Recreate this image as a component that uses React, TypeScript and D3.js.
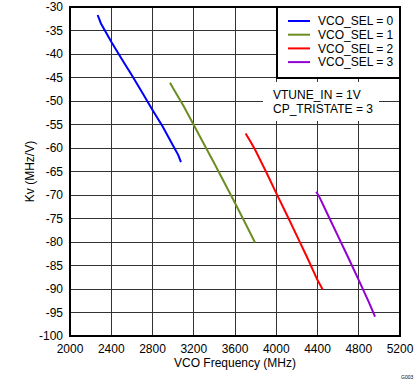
import React from "react";
import * as d3 from "d3";

const seriesNames = ["VCO_SEL = 0", "VCO_SEL = 1", "VCO_SEL = 2", "VCO_SEL = 3"];
const seriesColors = ["#0000FF", "#6B8E23", "#FF0000", "#9400D3"];

const sel0Freq = [2268, 2300, 2400, 2500, 2600, 2700, 2800, 2900, 3000, 3050, 3076];
const sel0Kv = [-31.7, -33.5, -37.4, -41, -44.5, -48.2, -51.9, -55.5, -59.5, -61.5, -63];
const sel1Freq = [2970, 3000, 3100, 3200, 3300, 3400, 3500, 3600, 3700, 3794];
const sel1Kv = [-46.1, -47.3, -51, -55.1, -59.2, -63.3, -67.5, -71.7, -76, -80.1];
const sel2Freq = [3703, 3750, 3800, 3900, 4000, 4100, 4200, 4300, 4400, 4450];
const sel2Kv = [-56.9, -58.6, -60.6, -65, -69.6, -74.1, -78.7, -83.3, -88.1, -90.1];
const sel3Freq = [4388, 4420, 4500, 4600, 4700, 4800, 4900, 4958];
const sel3Kv = [-69.3, -70.5, -74.2, -78.8, -83.4, -88.1, -92.9, -95.9];

const xTicks = [2000, 2400, 2800, 3200, 3600, 4000, 4400, 4800, 5200];
const yTicks = [-30, -35, -40, -45, -50, -55, -60, -65, -70, -75, -80, -85, -90, -95, -100];

const W = 419, H = 382;
const L = 70, R = 400, T = 7, B = 336;
const FONT = "Liberation Sans, Arial, sans-serif";

export default function App() {
  const x = d3.scaleLinear().domain([2000, 5200]).range([L, R]);
  const y = d3.scaleLinear().domain([-30, -100]).range([T, B]);
  const line = d3.line<[number, number]>().x(d => x(d[0])).y(d => y(d[1]));
  const series = [
    d3.zip(sel0Freq, sel0Kv),
    d3.zip(sel1Freq, sel1Kv),
    d3.zip(sel2Freq, sel2Kv),
    d3.zip(sel3Freq, sel3Kv),
  ] as [number, number][][];

  return (
    <svg width={W} height={H} style={{ position: "absolute", left: 0, top: 0, background: "#fff" }} fontFamily={FONT}>
      <rect x={0} y={0} width={W} height={H} fill="#fff" />
      {xTicks.slice(1, -1).map(t => (
        <line key={"gx" + t} x1={x(t)} x2={x(t)} y1={T} y2={B} stroke="#333" strokeWidth={1} shapeRendering="crispEdges" />
      ))}
      {yTicks.slice(1, -1).map(t => (
        <line key={"gy" + t} x1={L} x2={R} y1={y(t)} y2={y(t)} stroke="#333" strokeWidth={1} shapeRendering="crispEdges" />
      ))}
      <rect x={263} y={82} width={116} height={39} fill="#fff" />
      <text x={273} y={99} fontSize={12} fill="#000">VTUNE_IN = 1V</text>
      <text x={273} y={113} fontSize={12} fill="#000">CP_TRISTATE = 3</text>
      {series.map((s, i) => (
        <path key={"s" + i} d={line(s) || ""} fill="none" stroke={seriesColors[i]} strokeWidth={2} />
      ))}
      <rect x={L} y={T} width={R - L} height={B - T} fill="none" stroke="#000" strokeWidth={2} />
      <rect x={277} y={T} width={R - 277} height={78 - T} fill="#fff" stroke="#000" strokeWidth={2} />
      {seriesNames.map((n, i) => (
        <g key={"lg" + i}>
          <line x1={288} x2={310} y1={21 + i * 13.7} y2={21 + i * 13.7} stroke={seriesColors[i]} strokeWidth={2} />
          <text x={318} y={21 + i * 13.7} dy="0.35em" fontSize={12} fill="#000">{n}</text>
        </g>
      ))}
      {yTicks.map(t => (
        <text key={"ty" + t} x={63} y={y(t)} dy="0.35em" textAnchor="end" fontSize={12} fill="#000">{t}</text>
      ))}
      {xTicks.map(t => (
        <text key={"tx" + t} x={x(t)} y={353} textAnchor="middle" fontSize={12} fill="#000">{t}</text>
      ))}
      <text x={235} y={367} textAnchor="middle" fontSize={12} fill="#000">VCO Frequency (MHz)</text>
      <text transform={`translate(34,${(T + B) / 2}) rotate(-90)`} textAnchor="middle" fontSize={12} fill="#000">Kv (MHz/V)</text>
      <text x={401} y={379} fontSize={5} fill="#000">G003</text>
    </svg>
  );
}
